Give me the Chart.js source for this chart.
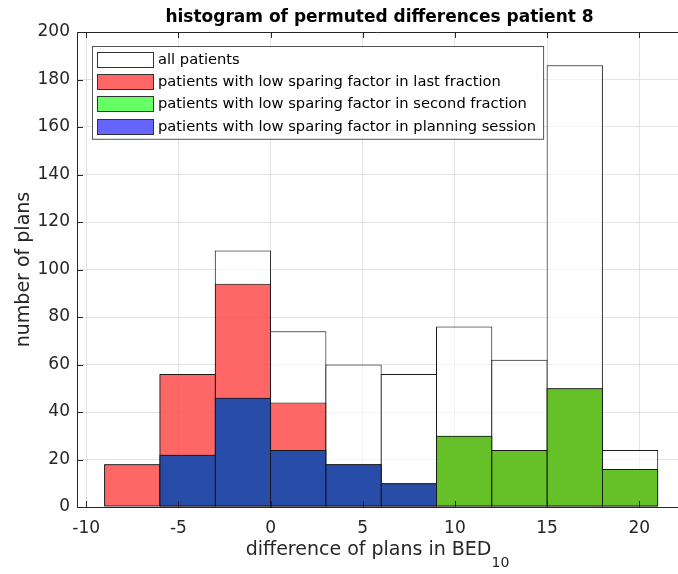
<!DOCTYPE html>
<html>
<head>
<meta charset="utf-8">
<title>histogram of permuted differences patient 8</title>
<script src="https://cdn.jsdelivr.net/npm/chart.js@4"></script>
<style>
  html, body { margin: 0; padding: 0; background: #fff; }
  #wrap { width: 678px; height: 574px; }
</style>
</head>
<body>
<div id="wrap"><canvas id="hist" width="678" height="574"></canvas></div>
<script>
// bins are 3 wide, from -9 to 21; bars sit on the bin centres
const binCenters = [-7.5, -4.5, -1.5, 1.5, 4.5, 7.5, 10.5, 13.5, 16.5, 19.5];

// counts per bin
const allPatients       = [18, 56, 108, 74, 60, 56, 76, 62, 186, 24];
const lowLastFraction   = [18, 56, 94, 44, 18, 10, 30, 24, 50, 16];
const lowSecondFraction = [0, 22, 46, 24, 18, 10, 30, 24, 50, 16];
const lowPlanning       = [0, 22, 46, 24, 18, 10, 0, 0, 0, 0];

const seriesLabels = [
  'all patients',
  'patients with low sparing factor in last fraction',
  'patients with low sparing factor in second fraction',
  'patients with low sparing factor in planning session'
];

const xTicks = [-10, -5, 0, 5, 10, 15, 20];
const yTicks = [0, 20, 40, 60, 80, 100, 120, 140, 160, 180, 200];

const FONT = "'DejaVu Sans', sans-serif";
const AXIS_COLOR = '#262626';
const EDGE_COLOR = '#1a1a1a';
const GRID_COLOR = '#e3e3e3';

// matlab-ish face colours, 0.6 alpha so overlaps blend
const FACES = [
  'rgba(255,255,255,0.6)',
  'rgba(255,0,0,0.6)',
  'rgba(0,255,0,0.6)',
  'rgba(0,0,255,0.6)'
];

function points(values) {
  return binCenters.map((x, i) => ({ x: x, y: values[i] }));
}

function histDataset(i, values) {
  return {
    label: seriesLabels[i],
    data: points(values),
    backgroundColor: FACES[i],
    borderColor: EDGE_COLOR,
    borderWidth: 1,
    borderSkipped: false,
    grouped: false,
    barPercentage: 1.018,   // let neighbouring edges share one pixel
    categoryPercentage: 1,
    order: 4 - i            // first series is painted first
  };
}

// inward tick marks, box top, title, axis labels and legend
const matlabAxes = {
  id: 'matlabAxes',
  afterDatasetsDraw(chart) {
    const { ctx, chartArea: a, scales: { x, y } } = chart;
    ctx.save();
    ctx.strokeStyle = AXIS_COLOR;
    ctx.lineWidth = 1;
    ctx.beginPath();
    xTicks.forEach(v => {
      const px = Math.round(x.getPixelForValue(v)) + 0.5;
      ctx.moveTo(px, a.bottom); ctx.lineTo(px, a.bottom - 6);
      ctx.moveTo(px, a.top); ctx.lineTo(px, a.top + 6);
    });
    yTicks.forEach(v => {
      const py = Math.round(y.getPixelForValue(v)) + 0.5;
      ctx.moveTo(a.left, py); ctx.lineTo(a.left + 6, py);
    });
    ctx.moveTo(a.left, a.top + 0.5);
    ctx.lineTo(a.right, a.top + 0.5);
    ctx.stroke();
    ctx.restore();
  },
  afterDraw(chart) {
    const { ctx, chartArea: a } = chart;
    const cx = (a.left + a.right) / 2;
    ctx.save();

    // title
    ctx.fillStyle = '#000';
    ctx.font = 'bold 17px ' + FONT;
    ctx.textAlign = 'center';
    ctx.textBaseline = 'alphabetic';
    ctx.fillText('histogram of permuted differences patient 8', cx + 2, 22);

    // x label with subscript
    ctx.fillStyle = AXIS_COLOR;
    const main = 'difference of plans in BED';
    const sub = '10';
    ctx.font = '19px ' + FONT;
    const wMain = ctx.measureText(main).width;
    ctx.font = '14px ' + FONT;
    const wSub = ctx.measureText(sub).width;
    const x0 = cx - (wMain + wSub) / 2;
    ctx.textAlign = 'left';
    ctx.font = '19px ' + FONT;
    ctx.fillText(main, x0, 555);
    ctx.font = '14px ' + FONT;
    ctx.fillText(sub, x0 + wMain, 567);

    // y label
    ctx.font = '19px ' + FONT;
    ctx.textAlign = 'center';
    ctx.translate(29, (a.top + a.bottom) / 2);
    ctx.rotate(-Math.PI / 2);
    ctx.fillText('number of plans', 0, 0);
    ctx.setTransform(1, 0, 0, 1, 0, 0);

    // legend box
    const lx = 92, ly = 46, rowH = 22.2, swW = 56, swH = 15;
    ctx.font = '14.7px ' + FONT;
    const textW = Math.max(...chart.data.datasets.map(d => ctx.measureText(d.label).width));
    const boxW = 5 + swW + 5 + textW + 7;
    const boxH = chart.data.datasets.length * rowH + 4;
    ctx.fillStyle = '#fff';
    ctx.fillRect(lx, ly, boxW, boxH);
    ctx.strokeStyle = '#555';
    ctx.lineWidth = 1;
    ctx.strokeRect(lx + 0.5, ly + 0.5, boxW, boxH);
    ctx.textAlign = 'left';
    ctx.textBaseline = 'middle';
    chart.data.datasets.forEach((d, i) => {
      const top = Math.round(ly + 6 + i * rowH);
      const sx = lx + 5;
      ctx.fillStyle = '#fff';
      ctx.fillRect(sx, top, swW, swH);
      ctx.fillStyle = d.backgroundColor;
      ctx.fillRect(sx, top, swW, swH);
      ctx.strokeStyle = '#333';
      ctx.strokeRect(sx + 0.5, top + 0.5, swW, swH);
      ctx.fillStyle = '#000';
      ctx.fillText(d.label, sx + swW + 5, top + swH / 2 + 1);
    });
    ctx.restore();
  }
};

new Chart(document.getElementById('hist'), {
  type: 'bar',
  data: {
    datasets: [
      histDataset(0, allPatients),
      histDataset(1, lowLastFraction),
      histDataset(2, lowSecondFraction),
      histDataset(3, lowPlanning)
    ]
  },
  options: {
    responsive: false,
    animation: false,
    devicePixelRatio: 1,
    layout: { padding: { top: 32, right: 0, bottom: 0, left: 0 } },
    plugins: {
      legend: { display: false },
      tooltip: { enabled: false }
    },
    scales: {
      x: {
        type: 'linear',
        offset: false,
        min: -10.5,
        max: 22.1,
        afterBuildTicks: s => { s.ticks = xTicks.map(v => ({ value: v })); },
        afterFit: s => { s.height = 67; },
        grid: { color: GRID_COLOR, drawTicks: false, offset: false },
        border: { color: AXIS_COLOR },
        ticks: { padding: 11, color: AXIS_COLOR, font: { family: FONT, size: 17 }, maxRotation: 0, autoSkip: false }
      },
      y: {
        min: 0,
        max: 200,
        afterBuildTicks: s => { s.ticks = yTicks.map(v => ({ value: v })); },
        afterFit: s => { s.width = 77; },
        grid: { color: GRID_COLOR, drawTicks: false },
        border: { color: AXIS_COLOR },
        ticks: { padding: 7, color: AXIS_COLOR, font: { family: FONT, size: 17 } }
      }
    }
  },
  plugins: [matlabAxes]
});
</script>
</body>
</html>
